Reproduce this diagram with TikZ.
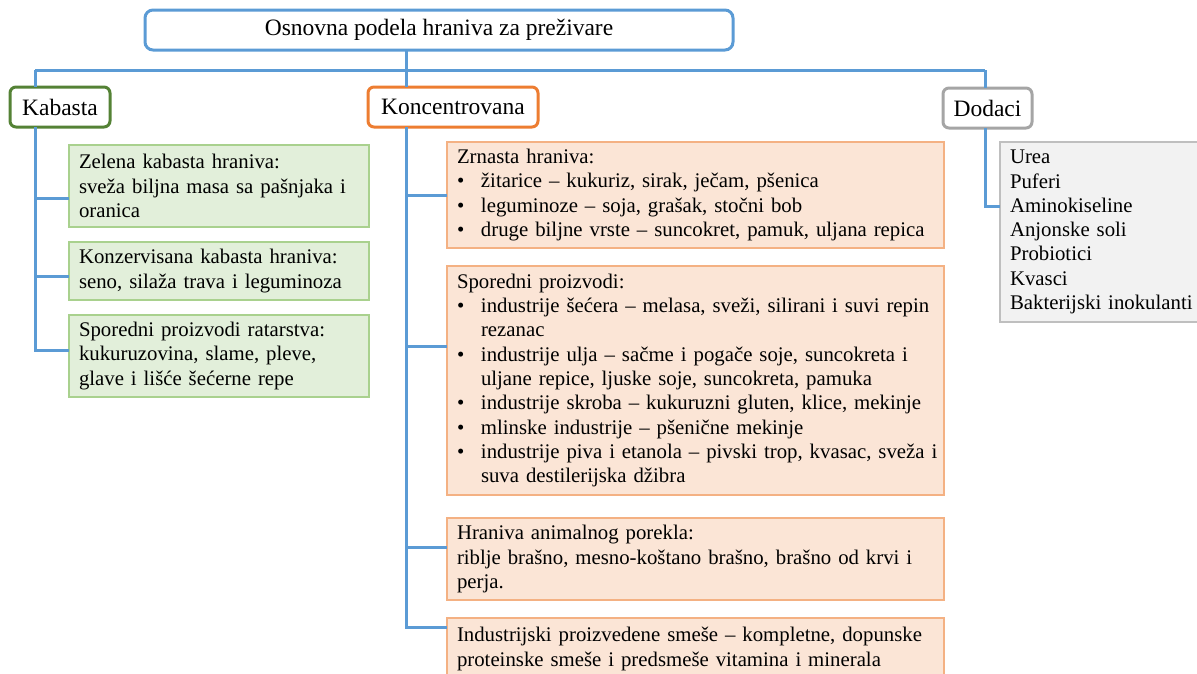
\documentclass[tikz,border=0pt]{standalone}
\usepackage{fontspec}
\setmainfont{Liberation Serif}
\usetikzlibrary{calc}
\definecolor{conblue}{HTML}{5B9BD5}
\definecolor{catgreen}{HTML}{548235}
\definecolor{catorange}{HTML}{ED7D31}
\definecolor{catgray}{HTML}{A5A5A5}
\definecolor{gfill}{HTML}{E2EFDA}
\definecolor{gline}{HTML}{A9D18E}
\definecolor{ofill}{HTML}{FBE5D6}
\definecolor{oline}{HTML}{F4B183}
\definecolor{dfill}{HTML}{F2F2F2}
\definecolor{dline}{HTML}{BFBFBF}
\newcommand{\bul}{\makebox[24pt][l]{\textbullet}}
\newcommand{\ind}{\hspace*{24pt}}
\begin{document}
\begin{tikzpicture}[x=1pt,y=-1pt,
  conn/.style={draw=conblue,line width=3pt},
  catbox/.style={draw,line width=3pt,fill=white,rounded corners=6pt,minimum height=40pt,inner sep=0pt,outer sep=0pt,font=\fontsize{23.5pt}{26pt}\selectfont},
  content/.style={anchor=north west,line width=1.4pt,inner xsep=10pt,inner ysep=0pt,outer sep=0pt,align=left,font=\fontsize{20.8pt}{24.3pt}\selectfont},
  gbox/.style={content,draw=gline,fill=gfill,text width=280pt,minimum width=300pt},
  obox/.style={content,draw=oline,fill=ofill,text width=477pt,minimum width=497pt},
  dbox/.style={content,draw=dline,fill=dfill,text width=210pt,minimum width=230pt}]
\useasboundingbox (0,0) rectangle (1197,673);

\node[catbox,draw=conblue,rounded corners=8pt,minimum width=588pt] (title) at (439,30) {Osnovna podela hraniva za preživare};
\node[catbox,draw=catgreen,minimum width=100pt] (kab) at (60,107) {Kabasta};
\node[catbox,draw=catorange,minimum width=170pt] (kon) at (453,107) {Koncentrovana};
\node[catbox,draw=catgray,minimum width=89pt] (dod) at (987.5,108) {Dodaci};

\node[gbox,minimum height=82pt] (g1) at (69,145) {\mbox{Zelena kabasta hraniva:}\\\mbox{sveža biljna masa sa pašnjaka i}\\\mbox{oranica}};
\node[gbox,minimum height=58pt] (g2) at (69,242) {\mbox{Konzervisana kabasta hraniva:}\\\mbox{seno, silaža trava i leguminoza}};
\node[gbox,minimum height=82pt] (g3) at (69,315) {\mbox{Sporedni proizvodi ratarstva:}\\\mbox{kukuruzovina, slame, pleve,}\\\mbox{glave i lišće šećerne repe}};

\node[obox,minimum height=106pt] (o1) at (447,142) {\mbox{Zrnasta hraniva:}\\
\mbox{\bul žitarice – kukuriz, sirak, ječam, pšenica}\\
\mbox{\bul leguminoze – soja, grašak, stočni bob}\\
\mbox{\bul druge biljne vrste – suncokret, pamuk, uljana repica}};
\node[obox,minimum height=229pt] (o2) at (447,266) {\mbox{Sporedni proizvodi:}\\
\mbox{\bul industrije šećera – melasa, sveži, silirani i suvi repin}\\
\mbox{\ind rezanac}\\
\mbox{\bul industrije ulja – sačme i pogače soje, suncokreta i}\\
\mbox{\ind uljane repice, ljuske soje, suncokreta, pamuka}\\
\mbox{\bul industrije skroba – kukuruzni gluten, klice, mekinje}\\
\mbox{\bul mlinske industrije – pšenične mekinje}\\
\mbox{\bul industrije piva i etanola – pivski trop, kvasac, sveža i}\\
\mbox{\ind suva destilerijska džibra}};
\node[obox,minimum height=82pt] (o3) at (447,518) {\mbox{Hraniva animalnog porekla:}\\\mbox{riblje brašno, mesno-koštano brašno, brašno od krvi i}\\\mbox{perja.}};
\node[obox,minimum height=62pt] (o4) at (447,618) {\mbox{Industrijski proizvedene smeše – kompletne, dopunske}\\\mbox{proteinske smeše i predsmeše vitamina i minerala}};

\node[dbox,minimum height=180pt] (dl) at (1000,142) {Urea\\Puferi\\Aminokiseline\\Anjonske soli\\Probiotici\\Kvasci\\\mbox{Bakterijski inokulanti}};

\coordinate (busL) at (35,70);
\coordinate (busM) at (406,70);
\coordinate (busR) at (985,70);
\coordinate (g1b) at ($(g1.west)+(0,12)$);
\coordinate (g2b) at ($(g2.west)+(0,5)$);
\coordinate (g3b) at ($(g3.west)+(0,-6)$);
\coordinate (o1b) at (o1.west);
\coordinate (o2b) at ($(o2.west)+(0,-34.5)$);
\coordinate (o3b) at ($(o3.west)+(0,-12)$);
\coordinate (o4b) at ($(o4.west)+(0,-22)$);
\coordinate (dlb) at ($(dl.west)+(0,-26)$);

\draw[conn] (title.south -| busM) -- (busM);
\draw[conn] (busL) -- (busR);
\draw[conn] (busL) -- (kab.north -| busL);
\draw[conn] (busM) -- (kon.north -| busM);
\draw[conn] (busR) -- (dod.north -| busR);
\draw[conn] (kab.south -| busL) |- (g3b);
\draw[conn] (g1b -| busL) -- (g1b);
\draw[conn] (g2b -| busL) -- (g2b);
\draw[conn] (kon.south -| busM) |- (o4b);
\draw[conn] (o1b -| busM) -- (o1b);
\draw[conn] (o2b -| busM) -- (o2b);
\draw[conn] (o3b -| busM) -- (o3b);
\draw[conn] (dod.south -| busR) |- (dlb);
\end{tikzpicture}
\end{document}
